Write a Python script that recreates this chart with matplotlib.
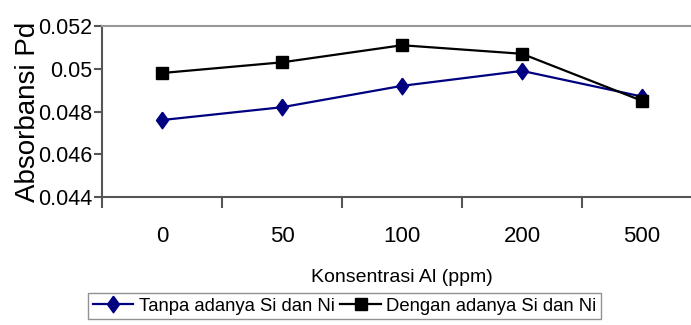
import matplotlib.pyplot as plt

plt.rcParams['font.family'] = ['Liberation Sans', 'DejaVu Sans']

categories = ['0', '50', '100', '200', '500']
tanpa = [0.0476, 0.0482, 0.0492, 0.0499, 0.0487]
dengan = [0.0498, 0.0503, 0.0511, 0.0507, 0.0485]
yticks = [0.044, 0.046, 0.048, 0.05, 0.052]
ytick_labels = ['0.044', '0.046', '0.048', '0.05', '0.052']

# diamond a bit taller than wide, like the original
diamond = [(0, 1), (0.72, 0), (0, -1), (-0.72, 0), (0, 1)]

fig = plt.figure(figsize=(6.91, 3.25), dpi=100)
ax = fig.add_axes([102 / 691, 128 / 325, 600 / 691, 171 / 325])

x = list(range(len(categories)))
ax.plot(x, tanpa, color='#000080', lw=1.6, marker=diamond, ms=12, label='Tanpa adanya Si dan Ni')
ax.plot(x, dengan, color='black', lw=1.6, marker='s', ms=9, label='Dengan adanya Si dan Ni')

ax.set_xlim(-0.5, 4.5)
ax.set_ylim(0.044, 0.052)
ax.set_yticks(yticks)
ax.set_yticklabels(ytick_labels, fontsize=15.5)
ax.set_xticks([i + 0.5 for i in range(-1, 5)])
ax.set_xticklabels([])
ax.set_xticks(x, minor=True)
ax.set_xticklabels(categories, minor=True, fontsize=16)
ax.tick_params(axis='x', which='minor', length=0, pad=21)
ax.tick_params(axis='x', which='major', length=8, color='#555555', width=1.5)
ax.tick_params(axis='y', length=6, color='#555555', width=1.5, pad=1)

ax.spines['top'].set_color('#999999')
ax.spines['top'].set_linewidth(1.5)
ax.spines['left'].set_color('#555555')
ax.spines['left'].set_linewidth(1.5)
ax.spines['bottom'].set_color('#555555')
ax.spines['bottom'].set_linewidth(1.5)
ax.spines['right'].set_visible(False)

ax.set_ylabel('Absorbansi Pd', fontsize=20, labelpad=-2)
ax.set_xlabel('Konsentrasi Al (ppm)', fontsize=14, labelpad=16)

leg = fig.legend(loc='upper left', bbox_to_anchor=(88 / 691, 1 - 293 / 325), ncol=2,
                 fontsize=13.3, frameon=True, fancybox=False, edgecolor='#777777',
                 handlelength=2.2, handletextpad=0.3, columnspacing=0.3,
                 borderpad=0.25, borderaxespad=0)
leg.get_frame().set_linewidth(1)

fig.savefig('out.png', dpi=100)
